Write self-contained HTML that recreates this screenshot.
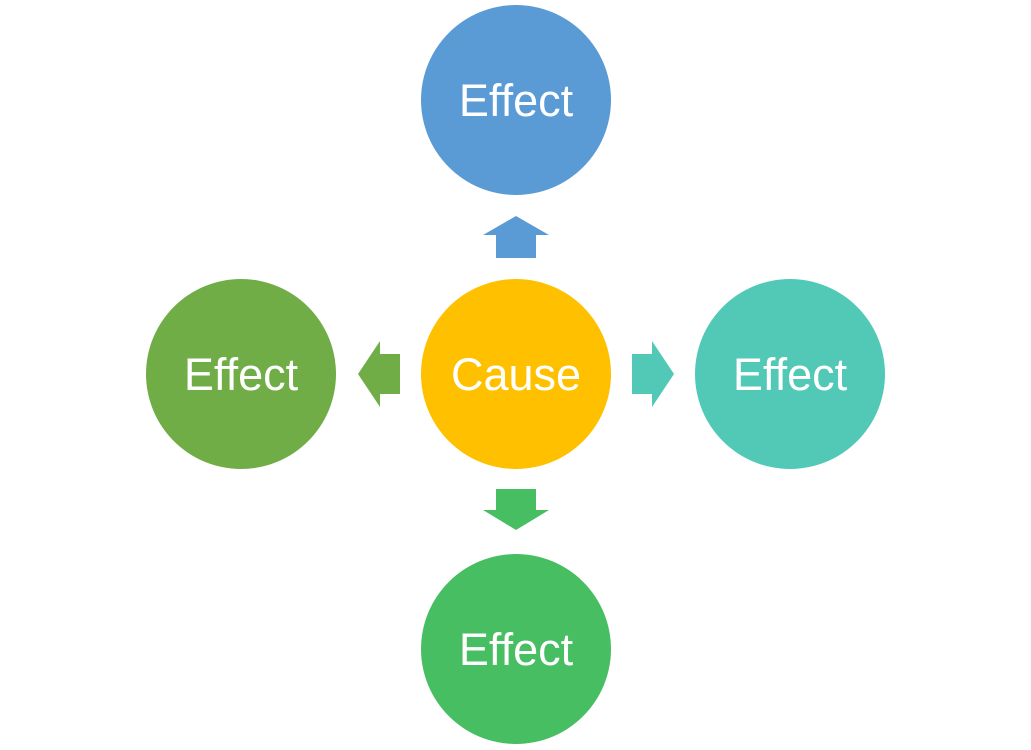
<!DOCTYPE html>
<html><head><style>
html,body{margin:0;padding:0;background:#fff;width:1031px;height:750px;overflow:hidden}
</style></head><body>
<svg width="1031" height="750" xmlns="http://www.w3.org/2000/svg" font-family="Liberation Sans, sans-serif">
<circle cx="516" cy="100" r="95" fill="#5B9BD5"/>
<circle cx="516" cy="374" r="95" fill="#FFC000"/>
<circle cx="241" cy="374" r="95" fill="#70AD47"/>
<circle cx="790" cy="374" r="95" fill="#52C8B6"/>
<circle cx="516" cy="649" r="95" fill="#48BE62"/>
<polygon points="516,216 549,235 536,235 536,258 496,258 496,235 483,235" fill="#5B9BD5"/>
<polygon points="516,530 549,510 536,510 536,489 496,489 496,510 483,510" fill="#48BE62"/>
<polygon points="358,374 380,341 380,354 400,354 400,394 380,394 380,407" fill="#70AD47"/>
<polygon points="674,374 652,341 652,354 632,354 632,394 652,394 652,407" fill="#52C8B6"/>
<g fill="#fff" font-size="45" text-anchor="middle">
<text x="516" y="116">Effect</text>
<text x="516" y="390">Cause</text>
<text x="241" y="390">Effect</text>
<text x="790" y="390">Effect</text>
<text x="516" y="665">Effect</text>
</g>
</svg>
</body></html>
